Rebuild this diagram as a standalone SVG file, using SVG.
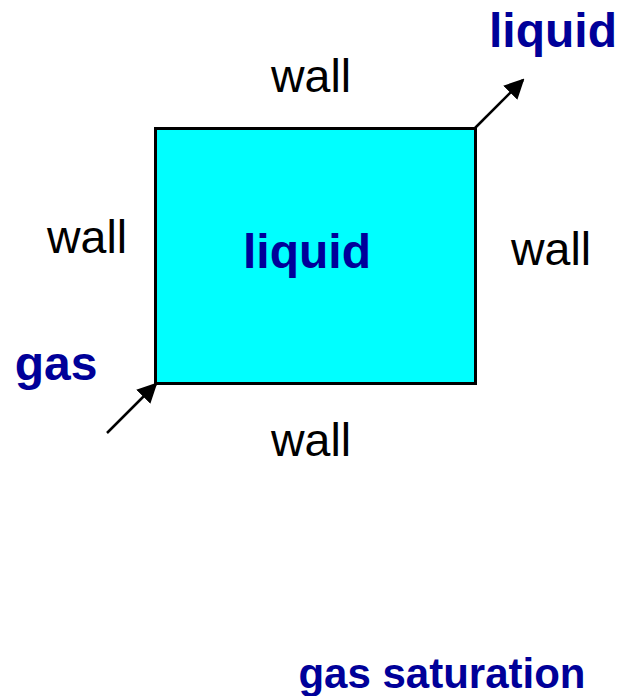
<svg xmlns="http://www.w3.org/2000/svg" width="621" height="696" viewBox="0 0 621 696">
<style>
.w{font-family:"Liberation Sans",Arial,sans-serif;font-size:46.5px;fill:#000;text-anchor:middle}
.b{font-family:"Liberation Sans",Arial,sans-serif;font-size:48px;font-weight:bold;fill:#000099;text-anchor:middle}
.s{font-size:42px}
.c{stroke:#000;stroke-width:2.5;fill:none}
</style>
<defs>
<marker id="ah" viewBox="0 0 10 10" refX="9" refY="5" markerWidth="8" markerHeight="8" orient="auto" markerUnits="strokeWidth">
<path d="M0,0 L10,5 L0,10 Z" fill="#000"/>
</marker>
</defs>
<rect width="621" height="696" fill="#fff"/>
<g id="box">
<rect x="155.5" y="128.5" width="320" height="255" fill="#00ffff" stroke="#000" stroke-width="3"/>
<text class="b" x="307" y="268">liquid</text>
</g>
<g id="walls">
<text class="w" x="311" y="92">wall</text>
<text class="w" x="87" y="253">wall</text>
<text class="w" x="551" y="265">wall</text>
<text class="w" x="311" y="456">wall</text>
</g>
<g id="labels">
<text class="b" x="553" y="47">liquid</text>
<text class="b" x="56" y="380">gas</text>
<text class="b s" x="442" y="688">gas saturation</text>
</g>
<g id="connectors">
<line class="c" x1="475" y1="128" x2="523" y2="80" marker-end="url(#ah)"/>
<line class="c" x1="107" y1="433" x2="156" y2="384" marker-end="url(#ah)"/>
</g>
</svg>
